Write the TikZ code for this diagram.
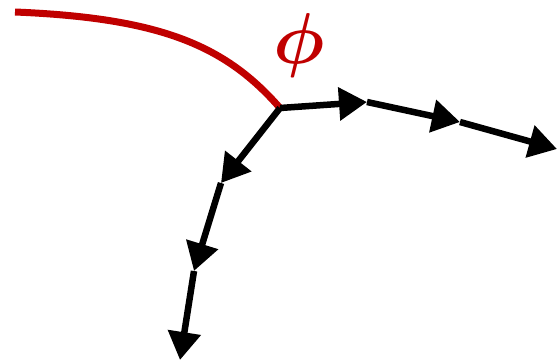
\documentclass[tikz,border=0pt]{standalone}
\usepackage{graphicx}
\usepackage{amsmath}
\usetikzlibrary{arrows.meta}
\definecolor{phired}{RGB}{192,0,0}
\tikzset{
  seg/.style={line width=6.5pt, draw=black, -{Triangle[length=28pt,width=32pt]}},
  redcurve/.style={line width=7pt, draw=phired},
  philabel/.style={text=phired, inner sep=0pt}
}
\begin{document}
\begin{tikzpicture}[x=1pt,y=-1pt]
\useasboundingbox (0,0) rectangle (557,364);
\coordinate (s) at (15,12);
\coordinate (o) at (280,108);
\coordinate (a1) at (367,102);
\coordinate (a2) at (460,122);
\coordinate (a3) at (557,149);
\coordinate (b1) at (221,183);
\coordinate (b2) at (194,271);
\coordinate (b3) at (180,360);
\draw[redcurve] (s) .. controls (160,18) and (225,45) .. (o);
\node[philabel] (phi) at (299,45) {\scalebox{7.2}{$\boldsymbol{\phi}$}};
\draw[seg] (o) -- (a1);
\draw[seg] (a1) -- (a2);
\draw[seg] (a2) -- (a3);
\draw[seg] (o) -- (b1);
\draw[seg] (b1) -- (b2);
\draw[seg] (b2) -- (b3);
\end{tikzpicture}
\end{document}
